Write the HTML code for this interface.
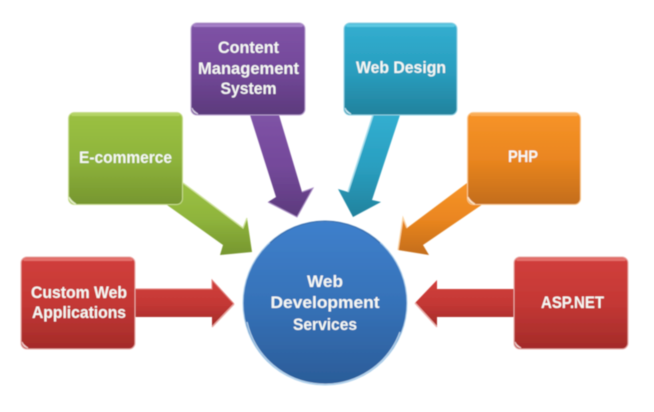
<!DOCTYPE html>
<html><head><meta charset="utf-8"><style>html,body{margin:0;padding:0;background:#fff}svg{display:block}
text{font-family:"Liberation Sans",sans-serif;font-weight:bold;font-size:16.5px;fill:#f6f8f4;text-anchor:middle}</style></head>
<body>
<svg width="654" height="412" viewBox="0 0 654 412" xmlns="http://www.w3.org/2000/svg">
<defs>
<linearGradient id="r" x1="0" y1="0" x2="0" y2="1"><stop offset="0" stop-color="#d13f3c"/><stop offset=".5" stop-color="#c43835"/><stop offset="1" stop-color="#a32b29"/></linearGradient>
<linearGradient id="g" x1="0" y1="0" x2="0" y2="1"><stop offset="0" stop-color="#9bc143"/><stop offset=".5" stop-color="#8fb43c"/><stop offset="1" stop-color="#76962f"/></linearGradient>
<linearGradient id="p" x1="0" y1="0" x2="0" y2="1"><stop offset="0" stop-color="#7f53a6"/><stop offset=".5" stop-color="#74499a"/><stop offset="1" stop-color="#5c3a7c"/></linearGradient>
<linearGradient id="t" x1="0" y1="0" x2="0" y2="1"><stop offset="0" stop-color="#32aed0"/><stop offset=".5" stop-color="#2a9fc0"/><stop offset="1" stop-color="#22829d"/></linearGradient>
<linearGradient id="o" x1="0" y1="0" x2="0" y2="1"><stop offset="0" stop-color="#f79428"/><stop offset=".5" stop-color="#ea8620"/><stop offset="1" stop-color="#c36d1a"/></linearGradient>
<linearGradient id="b" x1="0" y1="0" x2="0" y2="1"><stop offset="0" stop-color="#3f80cc"/><stop offset=".5" stop-color="#3672b8"/><stop offset="1" stop-color="#2b5c98"/></linearGradient>
<filter id="s" x="-10%" y="-10%" width="120%" height="120%"><feGaussianBlur stdDeviation="0.45"/></filter>
</defs>
<g filter="url(#s)">
<!-- arrows -->
<path d="M135 289H212V280L234 304L212 327V317H135Z" fill="url(#r)"/>
<path d="M135 289H212V280L234 304" fill="none" stroke="#e27f7a" stroke-width="1"/>
<path d="M212 327L234 304" fill="none" stroke="#e8a5a0" stroke-width="1.5"/>
<path d="M183 183L243 228L247 218L252 252L220 255L223 245L167 205Z" fill="url(#g)"/>
<path d="M183 183L243 228L247 218" fill="none" stroke="#cfe29a" stroke-width="1.3"/>
<path d="M250 115H279L302 192L313 188L297 217L268 202L276 197Z" fill="url(#p)"/>
<path d="M302 192L313 188L297 217L268 202" fill="none" stroke="#a98cc4" stroke-width="1"/>
<path d="M373 115H400L372 200L381 202L353 217L338 189L348 192Z" fill="url(#t)"/>
<path d="M373 115L348 192" fill="none" stroke="#a8e0ee" stroke-width="1.5"/>
<path d="M467 183L483 204L423 245L429 255L398 250L403 218L407 228Z" fill="url(#o)"/>
<path d="M398 250L403 218L407 228" fill="none" stroke="#fbd3a0" stroke-width="1.3"/>
<path d="M514 289H437V280L415 303L437 327V317H514Z" fill="url(#r)"/>
<path d="M415 303L437 327" fill="none" stroke="#edb0ac" stroke-width="1.5"/>
<!-- boxes -->
<rect x="21" y="257" width="114" height="92" rx="6" fill="url(#r)" stroke="#e9a9a6" stroke-width="1"/>
<rect x="23" y="258" width="110" height="3" rx="1.5" fill="#e4716c"/>
<path d="M22 342Q23 347 28 348Q23 345 22 342Z" fill="#fff" stroke="#f4d0ce"/>
<rect x="68.500" y="112.500" width="114" height="92" rx="6" fill="url(#g)" stroke="#c8dd8e" stroke-width="1"/>
<rect x="71" y="113" width="109" height="3" rx="1.500" fill="#b4d465"/>
<path d="M69 197Q70 203 76 204Q71 201 69 197Z" fill="#fff" stroke="#e5f0c6"/>
<rect x="191" y="23" width="114" height="92" rx="6" fill="url(#p)" stroke="#b9a0d0" stroke-width="1"/>
<rect x="193" y="24" width="110" height="3" rx="1.500" fill="#a47fc6"/>
<path d="M192 108Q193 113 198 114Q193 111 192 108Z" fill="#fff" stroke="#d9cde6"/>
<rect x="344" y="23" width="113" height="92" rx="6" fill="url(#t)" stroke="#8ed2e4" stroke-width="1"/>
<rect x="346" y="24" width="109" height="3" rx="1.500" fill="#5cc8e2"/>
<path d="M345 108Q346 113 351 114Q346 111 345 108Z" fill="#fff" stroke="#c8eaf3"/>
<rect x="467.500" y="112.500" width="113" height="92" rx="6" fill="url(#o)" stroke="#fbc98d" stroke-width="1"/>
<rect x="470" y="113" width="108" height="3" rx="1.500" fill="#fbae57"/>
<path d="M468 197Q469 203 475 204Q470 201 468 197Z" fill="#fff" stroke="#fde3c4"/>
<rect x="514" y="257" width="114" height="92" rx="6" fill="url(#r)" stroke="#e9a9a6" stroke-width="1"/>
<rect x="516" y="258" width="110" height="3" rx="1.500" fill="#e4716c"/>
<path d="M515 342Q516 347 521 348Q516 345 515 342Z" fill="#fff" stroke="#f4d0ce"/>
<!-- circle -->
<circle cx="325" cy="303" r="82" fill="url(#b)" stroke="#a9cdea" stroke-width="1"/>
<path d="M247 322A80 80 0 0 0 400 332" fill="none" stroke="#b9d6ee" stroke-width="1.2"/>
<path d="M270 243A80 80 0 0 1 380 243" fill="none" stroke="#2f66a8" stroke-width="1"/>
<!-- labels -->
<text x="79" y="298" textLength="96" lengthAdjust="spacingAndGlyphs">Custom Web</text>
<text x="79" y="318" textLength="94" lengthAdjust="spacingAndGlyphs">Applications</text>
<text x="125.500" y="163" textLength="93" lengthAdjust="spacingAndGlyphs">E-commerce</text>
<text x="248.500" y="53" textLength="61" lengthAdjust="spacingAndGlyphs">Content</text>
<text x="248.500" y="74" textLength="101" lengthAdjust="spacingAndGlyphs">Management</text>
<text x="248.500" y="94" textLength="56" lengthAdjust="spacingAndGlyphs">System</text>
<text x="401" y="73" textLength="90" lengthAdjust="spacingAndGlyphs">Web Design</text>
<text x="523" y="162" textLength="30" lengthAdjust="spacingAndGlyphs">PHP</text>
<text x="572.500" y="308" textLength="63" lengthAdjust="spacingAndGlyphs">ASP.NET</text>
<text x="325" y="287" textLength="36" lengthAdjust="spacingAndGlyphs">Web</text>
<text x="325" y="308" textLength="109" lengthAdjust="spacingAndGlyphs">Development</text>
<text x="325" y="330" textLength="64" lengthAdjust="spacingAndGlyphs">Services</text>
</g>
</svg>
</body></html>
